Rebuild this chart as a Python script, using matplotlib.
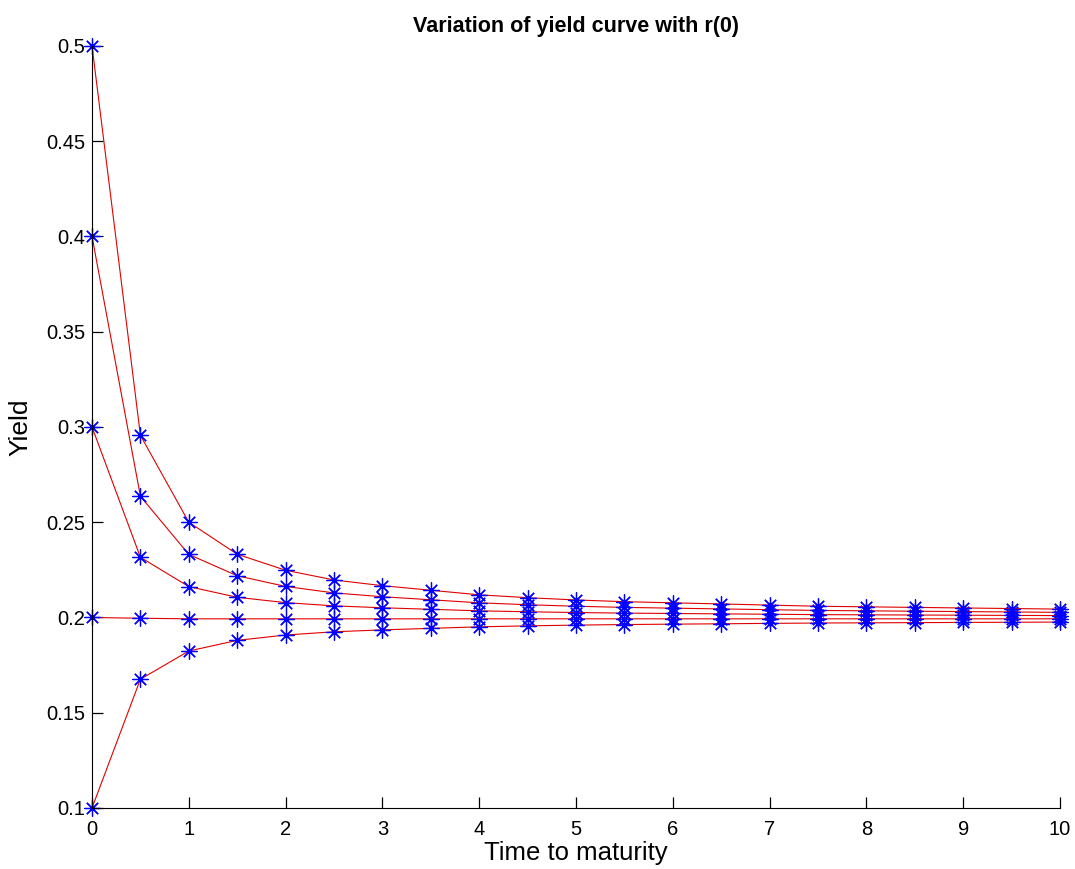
import matplotlib.pyplot as plt

plt.rcParams['font.family'] = ['Liberation Sans', 'DejaVu Sans']

# maturities (years)
t = [0, 0.5, 1, 1.5, 2, 2.5, 3, 3.5, 4, 4.5, 5, 5.5, 6, 6.5, 7, 7.5, 8, 8.5, 9, 9.5, 10]

# yields for each starting short rate r(0)
y_r010 = [0.1000, 0.1676, 0.1824, 0.1880, 0.1908, 0.1925, 0.1935, 0.1943, 0.1951, 0.1956, 0.1960,
          0.1963, 0.1965, 0.1967, 0.1969, 0.1971, 0.1972, 0.1973, 0.1974, 0.1975, 0.1976]
y_r020 = [0.2000, 0.1996, 0.1993, 0.1993, 0.1993, 0.1993, 0.1993, 0.1993, 0.1993, 0.1993, 0.1993,
          0.1993, 0.1993, 0.1993, 0.1993, 0.1993, 0.1993, 0.1993, 0.1993, 0.1993, 0.1993]
y_r030 = [0.3000, 0.2316, 0.2162, 0.2106, 0.2078, 0.2061, 0.2051, 0.2043, 0.2035, 0.2030, 0.2026,
          0.2023, 0.2021, 0.2019, 0.2017, 0.2015, 0.2014, 0.2013, 0.2012, 0.2011, 0.2010]
y_r040 = [0.4000, 0.2636, 0.2331, 0.2219, 0.2163, 0.2129, 0.2109, 0.2093, 0.2077, 0.2067, 0.2059,
          0.2053, 0.2049, 0.2045, 0.2041, 0.2037, 0.2035, 0.2033, 0.2031, 0.2029, 0.2027]
y_r050 = [0.5000, 0.2956, 0.2500, 0.2332, 0.2248, 0.2197, 0.2167, 0.2143, 0.2119, 0.2104, 0.2092,
          0.2083, 0.2077, 0.2071, 0.2065, 0.2059, 0.2056, 0.2053, 0.2050, 0.2047, 0.2044]

yticks = [0.1, 0.15, 0.2, 0.25, 0.3, 0.35, 0.4, 0.45, 0.5]
ytick_labels = ["0.1", "0.15", "0.2", "0.25", "0.3", "0.35", "0.4", "0.45", "0.5"]

fig = plt.figure(figsize=(10.75, 8.69), dpi=100)
ax = fig.add_axes([0.0856, 0.0702, 0.9004, 0.8769])

for y in [y_r010, y_r020, y_r030, y_r040, y_r050]:
    ax.plot(t, y, color="#e00000", linewidth=0.8, marker=(8, 2, 0), markersize=11.5,
            markeredgecolor="blue", markerfacecolor="blue", markeredgewidth=0.9,
            clip_on=False)

ax.set_xlim(0, 10)
ax.set_ylim(0.1, 0.5)
ax.set_xticks(range(0, 11))
ax.set_yticks(yticks)
ax.set_yticklabels(ytick_labels)

ax.spines["top"].set_visible(False)
ax.spines["right"].set_visible(False)
ax.tick_params(direction="in", length=8, width=0.9, labelsize=14.5)
ax.tick_params(axis="x", pad=9)
ax.tick_params(axis="y", pad=5)

ax.set_title("Variation of yield curve with r(0)", fontsize=15.5, fontweight="bold", pad=10)
ax.set_xlabel("Time to maturity", fontsize=18.5, labelpad=1)
ax.set_ylabel("Yield", fontsize=19, labelpad=10)

fig.savefig("out.png", dpi=100)
